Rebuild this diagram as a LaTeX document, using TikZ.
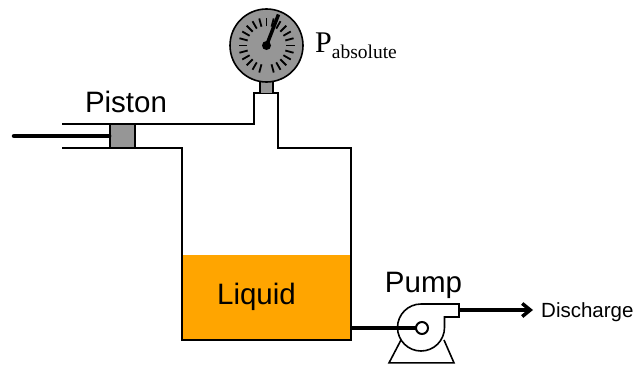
\documentclass[tikz,border=0pt]{standalone}
\usepackage{fontspec}
\setmainfont{Liberation Serif}
\setsansfont{Liberation Sans}
\usetikzlibrary{arrows.meta,positioning}
\definecolor{liquidfill}{RGB}{255,165,0}
\definecolor{partgrey}{RGB}{150,150,150}
\tikzset{
    >={Straight Barb[length=8pt,width=13pt]},
    wall/.style={line width=1.6pt},
    thickline/.style={line width=3.5pt},
    label/.style={font=\sffamily\fontsize{29.5}{29.5}\selectfont,inner sep=0pt,anchor=base},
    greypart/.style={draw,fill=partgrey,line width=1.6pt}
}
\begin{document}
\begin{tikzpicture}[x=1pt,y=-1pt]
    \useasboundingbox (0,0) rectangle (636,364);

    % Liquid
    \fill[liquidfill] (182,255) rectangle (351,340);

    % Vessel and cylinder
    \draw[wall] (62,148) -- (182,148) -- (182,340) -- (351,340) -- (351,148)
        -- (278,148) -- (278,93) -- (254,93) -- (254,124) -- (62,124);

    % Piston and rod
    \node[greypart,minimum width=25pt,minimum height=24pt,inner sep=0pt] (piston) at (122.5,136) {};
    \coordinate (rodend) at (14,136);
    \draw[line width=4.5pt,line cap=round] (rodend) -- (piston.west);

    % Gauge
    \node[greypart,minimum width=13pt,minimum height=12pt,inner sep=0pt] (stem) at (266.5,87.5) {};
    \node[greypart,circle,minimum size=73pt,inner sep=0pt] (gauge) at (266.5,45.5) {};
    \foreach \a in {105,120,...,435}
        \draw[line width=1.8pt] (gauge.center) ++(\a:19.5) -- ++(\a:8.5);
    \coordinate (needle) at (278.5,14.5);
    \draw[line width=3.5pt] (gauge.center) -- (needle);
    \fill (gauge.center) circle (4.5);

    % Pump
    \coordinate (eye) at (422,328);
    \draw[wall] (401,340) -- (389,362.9) -- (454,362.9) -- (444,340);
    \draw[wall,fill=white] (421,304) -- (459,304) -- (459,317) -- (444.5,317) -- (444.5,327.5)
        arc[start angle=0,end angle=270,radius=23.5] -- cycle;
    \coordinate (outlet) at (459,310);
    \coordinate (inlet) at (351,328);
    \draw[thickline] (inlet) -- (eye);
    \node[circle,draw,line width=2pt,fill=white,minimum size=12pt,inner sep=0pt] (eyering) at (eye) {};

    % Labels
    \node[label] (pistonlabel) at (126,112) {Piston};
    \node[label] (pumplabel) at (423.5,292) {Pump};
    \node[label] (liquidlabel) at (256.5,304) {Liquid};
    \node[font=\sffamily\fontsize{20.5}{20.5}\selectfont,inner sep=0pt,anchor=base west] (discharge) at (541,317) {Discharge};
    \node[inner sep=0pt,anchor=base west,font=\fontsize{30}{30}\selectfont] (pabs) at (315,52)
        {P\raisebox{-6pt}{\fontsize{19.5}{19.5}\selectfont absolute}};

    % Discharge line
    \coordinate (arrowtip) at (533,310);
    \draw[thickline,->] (outlet) -- (arrowtip);
\end{tikzpicture}
\end{document}
